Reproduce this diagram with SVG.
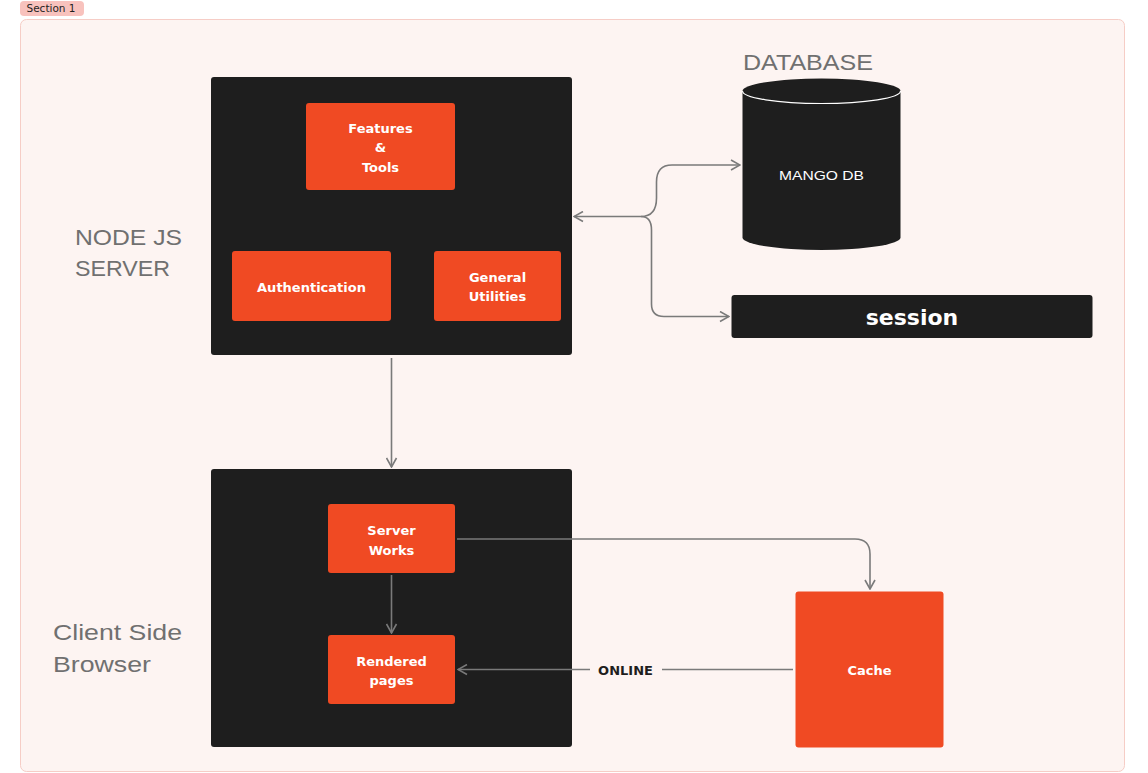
<svg xmlns="http://www.w3.org/2000/svg" width="1148" height="773" viewBox="0 0 1148 773">
<defs>
<style>
.dark{fill:#1e1e1e}
.org{fill:#f04a23}
.nt{font-family:"DejaVu Sans","Liberation Sans",sans-serif;font-weight:700;font-size:13px;fill:#ffffff;text-anchor:middle}
.lab{font-family:"Liberation Sans",Arial,sans-serif;font-size:22.5px;fill:#707070}
.con{fill:none;stroke:#7a7a7a;stroke-width:1.6}
</style>
<marker id="ah" viewBox="0 0 12 12" refX="11" refY="6" markerWidth="12" markerHeight="12" markerUnits="userSpaceOnUse" orient="auto-start-reverse">
<path d="M2,1 L11,6 L2,11" fill="none" stroke="#7a7a7a" stroke-width="1.6"/>
</marker>
</defs>
<rect width="1148" height="773" fill="#ffffff"/>
<g id="section">
<rect x="20.5" y="19.5" width="1104" height="752" rx="6" fill="#fdf4f2" stroke="#f6cdc6" stroke-width="1"/>
<rect x="20" y="1" width="64" height="15" rx="4" fill="#f8c2bd"/>
<text x="26.5" y="12.3" font-family="'DejaVu Sans','Liberation Sans',sans-serif" font-size="10" textLength="49" lengthAdjust="spacingAndGlyphs" fill="#1e1e1e">Section 1</text>
</g>
<g id="labels">
<text class="lab" x="75" y="244.5" textLength="107" lengthAdjust="spacingAndGlyphs">NODE JS</text>
<text class="lab" x="75" y="275.5" textLength="95" lengthAdjust="spacingAndGlyphs">SERVER</text>
<text class="lab" x="743" y="69.5" textLength="130" lengthAdjust="spacingAndGlyphs">DATABASE</text>
<text class="lab" x="53" y="640" textLength="129" lengthAdjust="spacingAndGlyphs">Client Side</text>
<text class="lab" x="53" y="672" textLength="98" lengthAdjust="spacingAndGlyphs">Browser</text>
</g>
<g id="node-server">
<rect class="dark" x="211" y="77" width="361" height="278" rx="3"/>
</g>
<g id="features">
<rect class="org" x="306" y="103" width="149" height="87" rx="3"/>
<text class="nt" x="380.5" y="132.5">Features</text>
<text class="nt" x="380.5" y="152">&amp;</text>
<text class="nt" x="380.5" y="171.5">Tools</text>
</g>
<g id="auth">
<rect class="org" x="232" y="251" width="159" height="70" rx="3"/>
<text class="nt" x="311.5" y="291.5">Authentication</text>
</g>
<g id="utilities">
<rect class="org" x="434" y="251" width="127" height="70" rx="3"/>
<text class="nt" x="497.5" y="282">General</text>
<text class="nt" x="497.5" y="301">Utilities</text>
</g>
<g id="database">
<path class="dark" d="M742.5,91 A79,12.5 0 0 1 900.5,91 L900.5,237.5 A79,12.5 0 0 1 742.5,237.5 Z"/>
<path d="M742.5,91 A79,12.5 0 0 0 900.5,91" fill="none" stroke="#ffffff" stroke-width="1.2"/>
<text x="821.5" y="180" font-family="'Liberation Sans',Arial,sans-serif" font-size="13.5" textLength="85" lengthAdjust="spacingAndGlyphs" fill="#ffffff" text-anchor="middle">MANGO DB</text>
</g>
<g id="session">
<rect class="dark" x="731.5" y="295" width="361" height="43" rx="3"/>
<text x="912" y="325" font-family="'DejaVu Sans','Liberation Sans',sans-serif" font-weight="700" font-size="22" fill="#ffffff" text-anchor="middle">session</text>
</g>
<g id="client">
<rect class="dark" x="211" y="469" width="361" height="278" rx="3"/>
</g>
<g id="server-works">
<rect class="org" x="328" y="504" width="127" height="69" rx="3"/>
<text class="nt" x="391.5" y="535">Server</text>
<text class="nt" x="391.5" y="554.5">Works</text>
</g>
<g id="rendered">
<rect class="org" x="328" y="635" width="127" height="69" rx="3"/>
<text class="nt" x="391.5" y="665.5">Rendered</text>
<text class="nt" x="391.5" y="684.5">pages</text>
</g>
<g id="cache">
<rect class="org" x="795.5" y="591.5" width="148" height="156" rx="3"/>
<text class="nt" x="869.5" y="674.5">Cache</text>
</g>
<g id="connectors">
<path class="con" marker-start="url(#ah)" d="M574,216.5 L641,216.5 Q656.5,216.5 656.5,198 L656.5,182 Q656.5,165 672,165 L740,165" marker-end="url(#ah)"/>
<path class="con" d="M641,216.5 Q651.5,216.5 651.5,230 L651.5,304 Q651.5,316.5 664,316.5 L729,316.5" marker-end="url(#ah)"/>
<path class="con" d="M391.5,358 L391.5,467" marker-end="url(#ah)"/>
<path class="con" d="M391.5,575 L391.5,633" marker-end="url(#ah)"/>
<path class="con" d="M457,539 L855,539 Q870,539 870,554 L870,589" marker-end="url(#ah)"/>
<path class="con" d="M793,669.5 L662,669.5"/>
<path class="con" d="M590,669.5 L458,669.5" marker-end="url(#ah)"/>
<text x="625.5" y="674.5" font-family="'DejaVu Sans','Liberation Sans',sans-serif" font-weight="700" font-size="13" fill="#1e1e1e" text-anchor="middle">ONLINE</text>
</g>
</svg>
